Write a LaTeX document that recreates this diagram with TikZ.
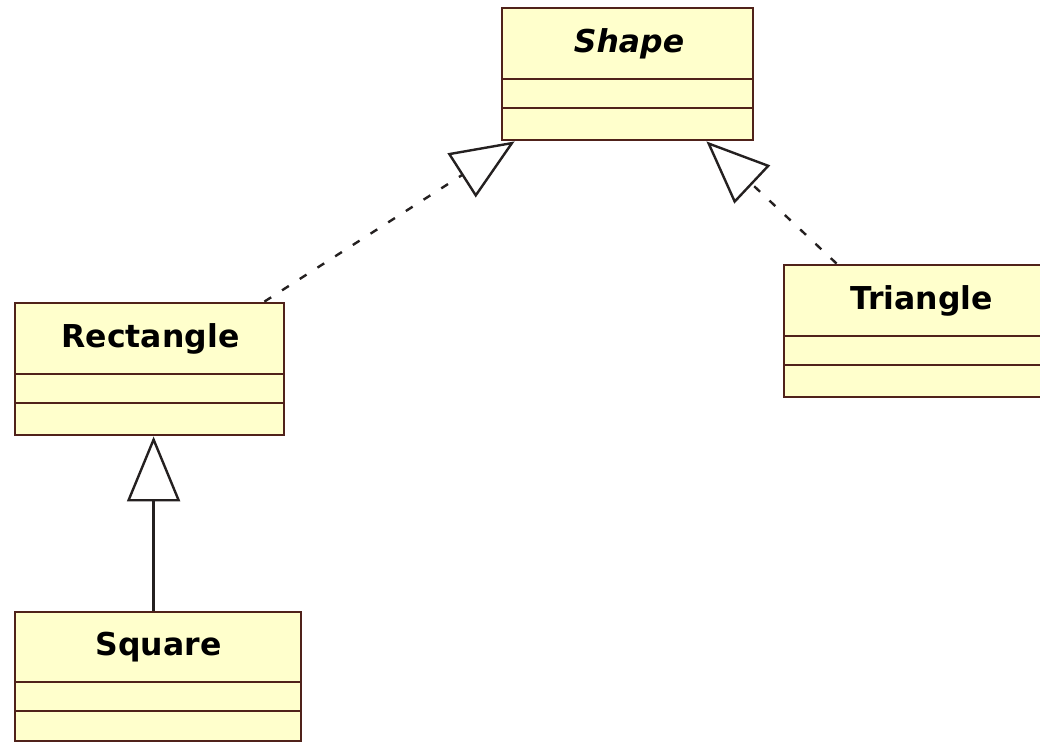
\documentclass[tikz,border=0pt]{standalone}
\usepackage{fontspec}
\setmainfont{DejaVu Sans}
\usetikzlibrary{arrows.meta,calc}
\definecolor{classfill}{RGB}{255,255,204}
\definecolor{classline}{RGB}{80,34,26}
\definecolor{linkcol}{RGB}{36,32,32}
\tikzset{
  classbox/.style={draw=classline, fill=classfill, line width=2.8pt, rectangle, inner sep=0pt},
  sepline/.style={draw=classline, line width=2.8pt},
  classname/.style={inner sep=0pt, font=\fontsize{31.5}{36}\selectfont\bfseries, text=black},
  realize/.style={draw=linkcol, line width=2.4pt, dash pattern=on 8pt off 13pt,
    -{Triangle[open, length=63pt, width=52pt, fill=white]}},
  inherit/.style={draw=linkcol, line width=2.4pt,
    -{Triangle[open, length=65pt, width=53pt, fill=white]}},
}
\begin{document}
\begin{tikzpicture}[x=1pt, y=-1pt]
\useasboundingbox (0,0) rectangle (1040,742);
\clip (0,0) rectangle (1040,742);
% Shape
\node[classbox, minimum width=251pt, minimum height=132pt] (shape) at (627.5,74) {};
\draw[sepline] (502,79) -- (753,79);
\draw[sepline] (502,108) -- (753,108);
\node[classname, font=\fontsize{31.5}{36}\selectfont\bfseries\itshape] (shapelbl) at (629,43.5) {Shape};
% Rectangle
\node[classbox, minimum width=269pt, minimum height=132pt] (rect) at (149.5,369) {};
\draw[sepline] (15,374) -- (284,374);
\draw[sepline] (15,403) -- (284,403);
\node[classname] (rectlbl) at (150.5,338.5) {Rectangle};
% Square
\node[classbox, minimum width=286pt, minimum height=129pt] (square) at (158,676.5) {};
\draw[sepline] (15,682) -- (301,682);
\draw[sepline] (15,711) -- (301,711);
\node[classname] (squarelbl) at (158.5,647) {Square};
% Triangle
\node[classbox, minimum width=275pt, minimum height=132pt] (tri) at (921.5,331) {};
\draw[sepline] (784,336) -- (1059,336);
\draw[sepline] (784,365) -- (1059,365);
\node[classname] (trilbl) at (921.5,300.5) {Triangle};
% connectors
\draw[realize] ($(rect.north east)+(-21,0)$) -- ($(shape.south west)+(14,0)$);
\draw[realize] ($(tri.north west)+(54,0)$) -- ($(shape.south east)+(-48,0)$);
\draw[inherit] ($(square.north west)+(140,0)$) -- ($(rect.south west)+(140,0)$);
\end{tikzpicture}
\end{document}
